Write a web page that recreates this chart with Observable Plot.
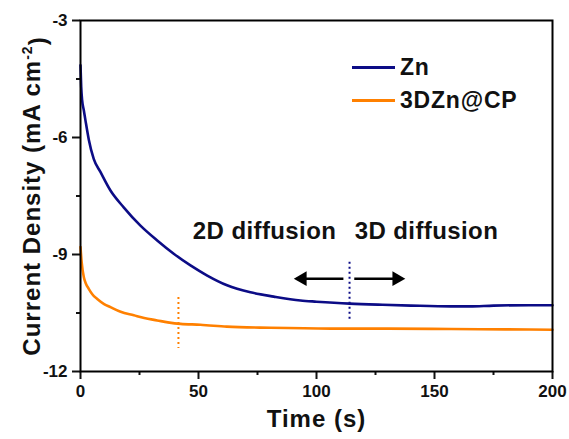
<!DOCTYPE html>
<html>
<head>
<meta charset="utf-8">
<script src="https://cdn.jsdelivr.net/npm/d3@7"></script>
<script src="https://cdn.jsdelivr.net/npm/@observablehq/plot@0.6"></script>
<style>
  html, body { margin: 0; padding: 0; background: #fff; }
  #chart { position: relative; width: 569px; height: 439px; }
  #legend { position: absolute; left: 352px; top: 51px; font-family: "Liberation Sans", Arial, sans-serif; font-weight: bold; font-size: 23px; letter-spacing: 0.8px; color: #111; }
  #legend .row { display: flex; align-items: center; height: 33px; }
  #legend .sw { width: 43px; height: 3px; margin-right: 5px; }
</style>
</head>
<body>
<div id="chart"></div>
<script>
// ---- data ----
const znTime = [0, 0.3, 0.7, 1.4, 2.1, 3.5, 5.6, 8.5, 12.7, 18.3, 25.4, 32.5, 39.5, 46.6, 53.7, 62.1, 72, 81.9, 93.2, 100, 114, 128, 140, 157, 165, 175, 190, 200];
const znCurrent = [-4.15, -4.7, -5.05, -5.3, -5.56, -6.05, -6.55, -6.89, -7.36, -7.79, -8.26, -8.64, -8.98, -9.28, -9.54, -9.79, -9.97, -10.08, -10.18, -10.21, -10.26, -10.29, -10.31, -10.33, -10.33, -10.31, -10.3, -10.3];
const cpTime = [0, 0.5, 1.4, 2.3, 3.5, 5, 7.1, 10, 12.7, 17, 22.6, 27, 32.5, 37, 42.4, 50.8, 62, 80.5, 106, 130, 157, 180, 200];
const cpCurrent = [-8.81, -9.2, -9.58, -9.75, -9.88, -10.02, -10.14, -10.27, -10.35, -10.47, -10.56, -10.63, -10.69, -10.74, -10.78, -10.8, -10.85, -10.88, -10.9, -10.9, -10.91, -10.92, -10.93];

const seriesNames = ["Zn", "3DZn@CP"];
const seriesColors = ["#0c0c86", "#ff8000"];

const xTicks = [0, 50, 100, 150, 200];
const xMinorTicks = [25, 75, 125, 175];
const yTicks = [-12, -9, -6, -3];
const yMinorTicks = [-10.5, -7.5, -4.5];

// transition markers (dotted lines): time, top, bottom
const markerTime = [41.5, 114];
const markerTop = [-10.1, -9.2];
const markerBottom = [-11.41, -10.7];

// annotations
const annoText = ["2D diffusion", "3D diffusion"];
const annoTime = [78, 146.6];
const annoCurrent = [-8.4, -8.4];
// arrows: start time, tip time, level
const arrowStart = [111.4, 116];
const arrowTip = [94, 134];
const arrowLevel = -9.62;

const xLabel = "Time (s)";
const yLabel = "Current Density (mA cm";

// ---- build tables ----
const zn = znTime.map((t, i) => ({t, v: znCurrent[i]}));
const cp = cpTime.map((t, i) => ({t, v: cpCurrent[i]}));
const markers = markerTime.map((t, i) => ({t, y1: markerTop[i], y2: markerBottom[i], c: seriesColors[1 - i]}));
const annos = annoText.map((s, i) => ({s, t: annoTime[i], v: annoCurrent[i]}));
const arrows = arrowStart.map((t, i) => ({t1: t, t2: arrowTip[i], v: arrowLevel, dir: arrowTip[i] > t ? 90 : -90}));

const FONT = "'Liberation Sans', Arial, sans-serif";

const plot = Plot.plot({
  width: 569,
  height: 439,
  marginLeft: 80,
  marginRight: 17,
  marginTop: 20,
  marginBottom: 68,
  style: {fontFamily: FONT, fontWeight: "bold", color: "#111", background: "#fff"},
  x: {domain: [0, 200]},
  y: {domain: [-12, -3]},
  marks: [
    Plot.line(zn, {x: "t", y: "v", stroke: seriesColors[0], strokeWidth: 2.6, curve: "monotone-x"}),
    Plot.line(cp, {x: "t", y: "v", stroke: seriesColors[1], strokeWidth: 2.6, curve: "monotone-x"}),
    Plot.ruleX(markers, {x: "t", y1: "y1", y2: "y2", stroke: "c", strokeWidth: 2, strokeDasharray: "2,3"}),
    Plot.link(arrows, {x1: "t1", x2: "t2", y1: "v", y2: "v", stroke: "#000", strokeWidth: 2.5}),
    Plot.dot(arrows, {x: "t2", y: "v", symbol: "triangle", rotate: "dir", r: 5.5, fill: "#000", stroke: "none"}),
    Plot.text(annos, {x: "t", y: "v", text: "s", fontSize: 24, fontWeight: "bold", fill: "#111"}),
    Plot.axisX(xTicks, {tickSize: 8, tickPadding: 5, strokeWidth: 2, fontSize: 17, fontWeight: "bold", label: null, tickFormat: d => String(d)}),
    Plot.axisX(xMinorTicks, {tickSize: 4, strokeWidth: 2, label: null, tickFormat: () => ""}),
    Plot.axisY(yTicks, {tickSize: 8, tickPadding: 5, strokeWidth: 2, fontSize: 17, fontWeight: "bold", label: null, tickFormat: d => String(d)}),
    Plot.axisY(yMinorTicks, {tickSize: 4, strokeWidth: 2, label: null, tickFormat: () => ""}),
    Plot.frame({stroke: "#000", strokeWidth: 2}),
    Plot.text([xLabel], {frameAnchor: "bottom", dy: 55, fontSize: 24, fontWeight: "bold", fill: "#111"}),
    Plot.text([yLabel], {frameAnchor: "left", textAnchor: "middle", dx: -48, rotate: -90, fontSize: 24, fontWeight: "bold", fill: "#111"})
  ]
});

const svg = d3.select(plot);
// superscript for the y title
svg.selectAll("text").filter(function() { return this.textContent === yLabel; }).each(function() {
  const t = d3.select(this);
  t.style("letter-spacing", "1px");
  t.append("tspan").attr("dy", "-0.55em").attr("font-size", 14).text("-2");
  t.append("tspan").attr("dy", "0.55em").text(")");
});
// letter spacing as in the reference
svg.selectAll("text").filter(function() { return annoText.includes(this.textContent); }).style("letter-spacing", "0.4px");
svg.selectAll("text").filter(function() { return this.textContent === xLabel; }).style("letter-spacing", "1px");

const chart = document.getElementById("chart");
chart.appendChild(plot);

// legend
const legend = document.createElement("div");
legend.id = "legend";
seriesNames.forEach((name, i) => {
  const row = document.createElement("div");
  row.className = "row";
  const sw = document.createElement("div");
  sw.className = "sw";
  sw.style.background = seriesColors[i];
  const lab = document.createElement("span");
  lab.textContent = name;
  row.appendChild(sw);
  row.appendChild(lab);
  legend.appendChild(row);
});
chart.appendChild(legend);
</script>
</body>
</html>
